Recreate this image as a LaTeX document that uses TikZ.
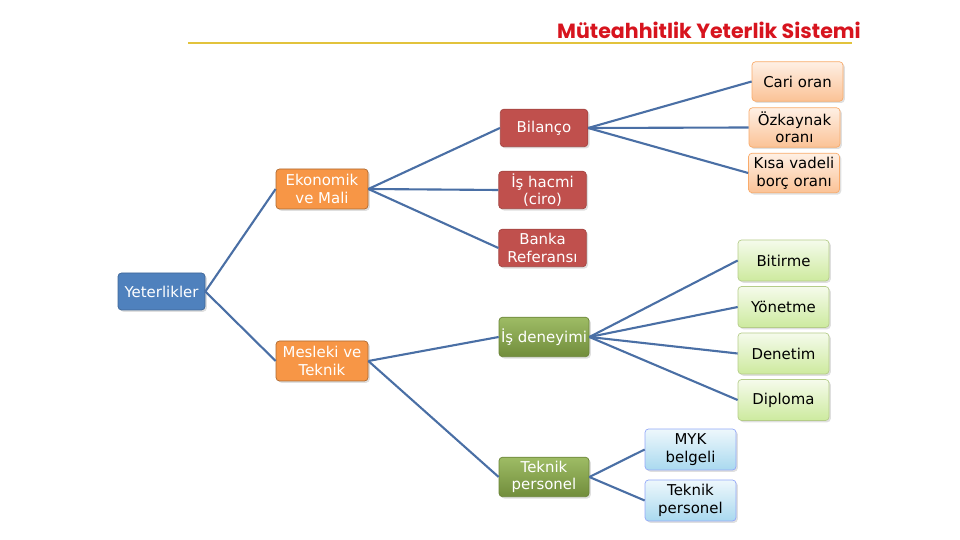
\documentclass[tikz,border=0pt]{standalone}
\usepackage{fontspec}
\setmainfont{DejaVu Sans}
\newfontfamily\titlefont{Poppins}
\usepackage{tikz}
\usetikzlibrary{shadows}
\definecolor{lineblue}{HTML}{4A6FA5}
\definecolor{rootblue}{HTML}{4F81BD}
\definecolor{midorange}{HTML}{F79646}
\definecolor{midred}{HTML}{C0504D}
\definecolor{midgreen}{HTML}{8DB04A}
\definecolor{leafgreen}{HTML}{CDEA9E}
\definecolor{leafblue}{HTML}{A9D9EF}
\definecolor{leafpeach}{HTML}{FBC295}
\definecolor{titlered}{HTML}{D7141E}
\definecolor{rulegold}{HTML}{E2C33C}
\begin{document}
\begin{tikzpicture}[font=\fontsize{8.5}{10}\selectfont,
  bx/.style={rounded corners=2pt,align=center,inner sep=1pt,drop shadow={shadow xshift=1pt,shadow yshift=-1pt,opacity=.25}},
  rt/.style={bx,fill=rootblue,draw=rootblue!80!black,text=white,minimum width=1.74cm,minimum height=.74cm},
  l1/.style={bx,fill=midorange,draw=midorange!70!black,text=white,minimum width=1.84cm,minimum height=.8cm},
  l2/.style={bx,fill=midred,draw=midred!85!black,text=white,minimum width=1.75cm,minimum height=.75cm},
  g2/.style={bx,top color=midgreen!85!white,bottom color=midgreen!80!black,draw=midgreen!75!black,text=white,minimum width=1.8cm,minimum height=.79cm},
  lo/.style={bx,top color=leafpeach!25!white,bottom color=leafpeach,draw=midorange!80!white,minimum width=1.82cm,minimum height=.79cm},
  lg/.style={bx,top color=leafgreen!20!white,bottom color=leafgreen,draw=midgreen!65!white,minimum width=1.82cm,minimum height=.82cm},
  lb/.style={bx,top color=leafblue!20!white,bottom color=leafblue,draw=leafblue!60!blue!70!white,minimum width=1.82cm,minimum height=.82cm},
  ln/.style={lineblue,line width=1.2pt}]
\useasboundingbox (0,0) rectangle (19.2,10.8);
\node[font=\titlefont\bfseries\fontsize{11.7}{14}\selectfont,text=titlered] (title) at (14.18,10.19) {Müteahhitlik Yeterlik Sistemi};
\draw[rulegold,line width=.7pt] (3.76,9.94) coordinate (r1) -- (17.04,9.94) coordinate (r2);
% root and first level
\node[rt] (yet) at (3.23,4.97) {Yeterlikler};
\node[l1] (eko) at (6.44,7.02) {Ekonomik\\ve Mali};
\node[l1] (mes) at (6.44,3.58) {Mesleki ve\\Teknik};
% second level
\node[l2] (bil) at (10.88,8.24) {Bilanço};
\node[l2] (hac) at (10.85,7.00) {İş hacmi\\(ciro)};
\node[l2] (ban) at (10.85,5.84) {Banka\\Referansı};
\node[g2] (den) at (10.88,4.06) {İş deneyimi};
\node[g2] (tek) at (10.88,1.26) {Teknik\\personel};
% leaves
\node[lo] (car) at (15.95,9.17) {Cari oran};
\node[lo] (ozk) at (15.89,8.25) {Özkaynak\\oranı};
\node[lo] (kis) at (15.88,7.34) {Kısa vadeli\\borç oranı};
\node[lg] (bit) at (15.67,5.59) {Bitirme};
\node[lg] (yon) at (15.67,4.66) {Yönetme};
\node[lg] (dnt) at (15.67,3.73) {Denetim};
\node[lg] (dip) at (15.67,2.80) {Diploma};
\node[lb] (myk) at (13.81,1.81) {MYK\\belgeli};
\node[lb] (tp) at (13.81,0.79) {Teknik\\personel};
% connectors
\draw[ln] (yet.east)--(eko.west);\draw[ln] (yet.east)--(mes.west);
\draw[ln] (eko.east)--(bil.west);\draw[ln] (eko.east)--(hac.west);\draw[ln] (eko.east)--(ban.west);
\draw[ln] (mes.east)--(den.west);\draw[ln] (mes.east)--(tek.west);
\draw[ln] (bil.east)--(car.west);\draw[ln] (bil.east)--(ozk.west);\draw[ln] (bil.east)--(kis.west);
\draw[ln] (den.east)--(bit.west);\draw[ln] (den.east)--(yon.west);\draw[ln] (den.east)--(dnt.west);\draw[ln] (den.east)--(dip.west);
\draw[ln] (tek.east)--(myk.west);\draw[ln] (tek.east)--(tp.west);
\end{tikzpicture}
\end{document}
